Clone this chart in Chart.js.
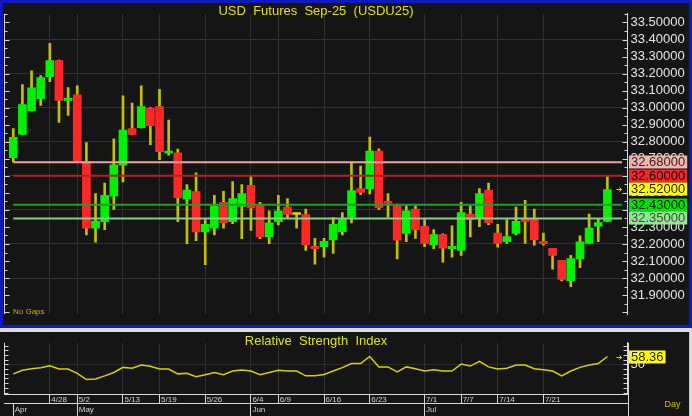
<!DOCTYPE html>
<html>
<head>
<meta charset="utf-8">
<script src="https://cdn.jsdelivr.net/npm/chart.js@4/dist/chart.umd.min.js"></script>
<style>
html, body {margin: 0; padding: 0; background: #dcdcdc;}
#top {position: absolute; left: 0; top: 0; width: 692px; height: 328px; box-sizing: border-box; border: 3px solid #1018c0; background: #151515;}
#bot {position: absolute; left: 0; top: 332px; width: 690px; height: 84px; box-sizing: border-box; border-right: 1px solid #c8c8c8; background: #151515;}
#top .box {position: absolute; left: 0; top: 0; width: 686px; height: 322px;}
#bot .box {position: absolute; left: 3px; top: 0; width: 686px; height: 84px;}
</style>
</head>
<body>
<div id="top"><div class="box"><canvas id="price"></canvas></div></div>
<div id="bot"><div class="box"><canvas id="rsi"></canvas></div></div>
<script>
//Daily bars, USD Futures Sep-25 (Thai holidays skipped)
const dates = ["4/22","4/23","4/24","4/25","4/28","4/29","4/30","5/2","5/6","5/7","5/8","5/9","5/13","5/14","5/15","5/16",
	"5/19","5/20","5/21","5/22","5/23","5/26","5/27","5/28","5/29","5/30","6/4","6/5","6/6","6/9","6/10","6/11","6/12","6/13",
	"6/16","6/17","6/18","6/19","6/20","6/23","6/24","6/25","6/26","6/27","6/30","7/1","7/2","7/3","7/4","7/7","7/8","7/9","7/11",
	"7/14","7/15","7/16","7/17","7/18","7/21","7/22","7/23","7/24","7/25","7/29","7/30","7/31"];
const open = [32.706,32.843,32.983,33.053,33.182,33.277,33.043,33.076,32.684,32.293,32.331,32.481,32.662,32.877,32.883,32.996,
	33.007,32.733,32.735,32.463,32.507,32.271,32.293,32.445,32.331,32.421,32.545,32.424,32.242,32.331,32.416,32.373,32.373,32.186,
	32.184,32.224,32.273,32.357,32.525,32.523,32.746,32.448,32.424,32.262,32.405,32.304,32.194,32.255,32.173,32.162,32.375,32.355,32.516,
	32.264,32.213,32.262,32.351,32.344,32.215,32.175,32.104,31.983,32.112,32.204,32.304,32.333];
const high = [32.877,33.136,33.217,33.188,33.377,33.280,33.118,33.129,32.795,32.496,32.558,32.817,33.069,33.027,33.129,33.000,
	33.107,32.927,32.757,32.549,32.618,32.344,32.485,32.509,32.567,32.549,32.600,32.445,32.395,32.485,32.467,32.384,32.405,32.233,
	32.233,32.355,32.384,32.682,32.658,32.828,32.758,32.496,32.435,32.432,32.424,32.344,32.284,32.260,32.306,32.445,32.424,32.525,32.558,
	32.315,32.344,32.416,32.456,32.405,32.264,32.175,32.104,32.133,32.248,32.375,32.346,32.600];
const low = [32.682,32.840,32.980,33.014,33.153,32.914,32.954,32.680,32.253,32.211,32.284,32.403,32.564,32.840,32.880,32.783,
	32.695,32.722,32.331,32.202,32.220,32.079,32.253,32.293,32.320,32.231,32.280,32.231,32.202,32.312,32.353,32.293,32.162,32.082,
	32.123,32.144,32.253,32.323,32.490,32.494,32.403,32.357,32.112,32.213,32.233,32.184,32.173,32.093,32.122,32.133,32.242,32.302,32.313,
	32.182,32.204,32.253,32.204,32.193,32.193,32.052,31.983,31.950,32.061,32.200,32.213,32.330];
const close = [32.826,33.018,33.117,33.177,33.277,33.043,33.056,32.687,32.293,32.335,32.485,32.665,32.868,32.843,33.007,32.895,
	32.742,32.746,32.472,32.516,32.271,32.315,32.423,32.323,32.467,32.496,32.412,32.242,32.324,32.395,32.373,32.373,32.194,32.173,
	32.215,32.315,32.344,32.514,32.503,32.746,32.413,32.439,32.222,32.395,32.282,32.204,32.255,32.175,32.186,32.384,32.344,32.496,32.324,
	32.204,32.244,32.333,32.333,32.224,32.202,32.133,31.992,32.114,32.213,32.293,32.326,32.520];
const rsi = [39.9,43.8,45.3,46.4,48.6,45.0,45.0,40.5,33.9,34.5,37.8,41.4,46.8,45.9,49.4,47.9,
	45.0,45.0,39.9,40.5,36.9,39.0,41.4,39.0,42.9,44.1,42.9,39.0,41.4,43.8,42.9,42.9,37.8,37.8,
	39.3,42.9,46.5,50.9,50.9,58.4,47.3,47.3,42.0,47.3,45.3,42.9,44.4,42.9,42.9,50.3,48.2,53.3,47.3,
	45.0,45.9,49.4,49.4,45.3,44.4,42.9,37.8,42.9,46.8,49.4,50.9,58.36];
const levels = [32.68, 32.60, 32.43, 32.35];
const dateTicks = ["4/28","5/2","5/13","5/19","5/26","6/4","6/9","6/16","6/23","7/1","7/7","7/14","7/21"];
const months = ["Apr","May","Jun","Jul"];
const monthStarts = ["4/22","5/2","6/4","7/1"];
const priceTicks = [31.9,32.0,32.1,32.2,32.3,32.4,32.5,32.6,32.7,32.8,32.9,33.0,33.1,33.2,33.3,33.4,33.5];
const rsiTicks = [20,25,30,35,40,45,50,55,60,65,70];

//Looks
const FONT = "'Liberation Sans', Arial, sans-serif";
Chart.defaults.font.family = FONT;
const GRID = "#303030", AXIS = "#d8d8d8", LABEL = "#e4e4e4", YEL = "#e0e000";
const AXIS_W = 61.5;
const X_MIN = -0.96, X_MAX = 67.2;
const P_MIN = 31.788, P_MAX = 33.551;
const R_MIN = 18.48, R_MAX = 72.95;
const levelStyle = [
	{line: "#e8a4a0", box: "#f4b4ae", text: "#3a2424"},
	{line: "#b02222", box: "#e82c2c", text: "#2a0000"},
	{line: "#1ea01e", box: "#00e000", text: "#002200"},
	{line: "#88cc88", box: "#92e892", text: "#3c4c3c"},
];

const idx = dates.map((d, i) => i);
const tickIdx = dateTicks.map(d => dates.indexOf(d));
const monthIdx = monthStarts.map(d => dates.indexOf(d));
const setTicks = values => scale => {scale.ticks = values.map(v => ({value: v}));};
const candle = (i, up, down, flat) => close[i] > open[i] ? up : close[i] < open[i] ? down : flat;

function edgeTicks(chart, step, major, longLen, shortLen) {
	const {ctx, chartArea: a, scales: {y}} = chart;
	ctx.save();
	ctx.strokeStyle = AXIS; ctx.lineWidth = 1;
	ctx.beginPath();
	const lx = Math.floor(a.left) + 0.5;
	ctx.moveTo(lx, a.top); ctx.lineTo(lx, a.bottom);
	for (let n = Math.ceil(y.min / step); n <= Math.floor(y.max / step); n++) {
		const py = Math.round(y.getPixelForValue(n * step)) + 0.5;
		const len = n % major === 0 ? longLen : shortLen;
		ctx.moveTo(lx, py); ctx.lineTo(lx + len, py);
		ctx.moveTo(a.right, py); ctx.lineTo(a.right - len, py);
	}
	ctx.stroke();
	ctx.restore();
}

function valueBox(chart, value, text, bg, fg) {
	const {ctx, chartArea: a, scales: {y}} = chart;
	const py = y.getPixelForValue(value);
	ctx.save();
	ctx.font = "13px " + FONT;
	const w = ctx.measureText(text).width + 4;
	ctx.fillStyle = bg;
	ctx.fillRect(a.right + 1.5, Math.round(py) - 6.5, w, 13);
	ctx.fillStyle = fg; ctx.textAlign = "left"; ctx.textBaseline = "middle";
	ctx.fillText(text, a.right + 3.5, Math.round(py) + 0.5);
	ctx.restore();
}

function arrow(chart, value) {
	const {ctx, chartArea: a, scales: {y}} = chart;
	const py = Math.round(y.getPixelForValue(value)) + 0.5, ax = a.right - 8;
	ctx.save();
	ctx.strokeStyle = YEL; ctx.lineWidth = 1;
	ctx.beginPath();
	ctx.moveTo(ax - 3, py); ctx.lineTo(ax + 2, py);
	ctx.moveTo(ax, py - 2); ctx.lineTo(ax + 2, py); ctx.lineTo(ax, py + 2);
	ctx.stroke();
	ctx.restore();
}

function caption(chart, text, y, size) {
	const {ctx, chartArea: a} = chart;
	ctx.save();
	ctx.font = size + "px " + FONT;
	ctx.fillStyle = YEL; ctx.textAlign = "center"; ctx.textBaseline = "middle";
	ctx.fillText(text, (a.left + a.right) / 2, y);
	ctx.restore();
}

new Chart(document.getElementById("price"), {
	type: "bar",
	data: {
		datasets: [
			...levels.map((lv, k) => ({
				type: "line", data: [{x: 0, y: lv}, {x: X_MAX - 0.6, y: lv}],
				borderColor: levelStyle[k].line, borderWidth: 2, pointRadius: 0, order: 0,
			})),
			{
				data: idx.map(i => ({x: i, y: [open[i], close[i]]})),
				backgroundColor: idx.map(i => candle(i, "#00f000", "#ff2828", "#d4d400")),
				borderWidth: 0, barThickness: 8, grouped: false, minBarLength: 2, order: 1,
			},
			{
				data: idx.map(i => ({x: i, y: [low[i], high[i]]})),
				backgroundColor: "#c4c000", barThickness: 2, grouped: false, order: 2,
			},
		],
	},
	options: {
		responsive: true, maintainAspectRatio: false, animation: false,
		layout: {padding: {left: 1.5, top: 0, right: 0, bottom: 0}},
		plugins: {legend: {display: false}, tooltip: {enabled: false}},
		scales: {
			x: {
				type: "linear", min: X_MIN, max: X_MAX, offset: false,
				afterBuildTicks: setTicks(tickIdx),
				ticks: {display: false},
				grid: {offset: false, color: GRID, drawTicks: false},
				border: {display: false},
			},
			y: {
				position: "right", min: P_MIN, max: P_MAX,
				afterBuildTicks: setTicks(priceTicks),
				afterFit: s => {s.width = AXIS_W;},
				ticks: {color: LABEL, font: {size: 13}, padding: 3, autoSkip: false, callback: v => v.toFixed(5)},
				grid: {drawTicks: false, color: c => Math.round(c.tick.value * 10) % 2 === 0 ? GRID : "transparent"},
				border: {color: AXIS},
			},
		},
	},
	plugins: [{
		id: "decor",
		afterDraw(chart) {
			const {ctx, chartArea: a} = chart;
			edgeTicks(chart, 0.05, 2, 5, 3);
			caption(chart, "USD  Futures  Sep-25  (USDU25)", 8, 13);
			ctx.save();
			ctx.font = "8px " + FONT; ctx.fillStyle = "#b8b800"; ctx.textBaseline = "middle";
			ctx.fillText("No Gaps", a.left + 8.5, a.bottom - 2.5);
			ctx.restore();
			const last = close[close.length - 1];
			const boxes = levels.map((lv, k) => ({v: lv, bg: levelStyle[k].box, fg: levelStyle[k].text}));
			boxes.push({v: last, bg: "#ffff00", fg: "#2a2a00"});
			boxes.forEach(b => valueBox(chart, b.v, b.v.toFixed(5), b.bg, b.fg));
			arrow(chart, last);
		},
	}],
});

new Chart(document.getElementById("rsi"), {
	type: "line",
	data: {
		datasets: [{
			data: idx.map(i => ({x: i, y: rsi[i]})),
			borderColor: "#d2d200", borderWidth: 1.5, pointRadius: 0, tension: 0,
		}],
	},
	options: {
		responsive: true, maintainAspectRatio: false, animation: false,
		layout: {padding: {left: 1.5, top: 1, right: 0, bottom: 0}},
		plugins: {legend: {display: false}, tooltip: {enabled: false}},
		scales: {
			x: {
				type: "linear", position: "bottom", weight: 0, min: X_MIN, max: X_MAX, offset: false,
				afterBuildTicks: setTicks(tickIdx),
				afterFit: s => {s.height = 9;},
				ticks: {color: "#d4d4d4", font: {size: 8}, align: "start", labelOffset: 1.5, padding: -8.5,
					autoSkip: false, maxRotation: 0, minRotation: 0, callback: v => dates[v]},
				grid: {offset: false, color: GRID, tickColor: AXIS, tickLength: 9},
				border: {color: AXIS},
			},
			xMonth: {
				type: "linear", position: "bottom", weight: 1, min: X_MIN, max: X_MAX, offset: false,
				afterBuildTicks: setTicks(monthIdx),
				afterFit: s => {s.height = 13;},
				ticks: {color: "#d4d4d4", font: {size: 8}, align: "start", labelOffset: 1.5, padding: -11.3,
					autoSkip: false, maxRotation: 0, minRotation: 0, callback: v => months[monthIdx.indexOf(v)]},
				grid: {offset: false, drawOnChartArea: false, tickColor: AXIS, tickLength: 13},
				border: {color: AXIS},
			},
			y: {
				position: "right", min: R_MIN, max: R_MAX,
				afterBuildTicks: setTicks(rsiTicks),
				afterFit: s => {s.width = AXIS_W;},
				ticks: {color: LABEL, font: {size: 13}, padding: 3, autoSkip: false, callback: v => v === 50 ? "50" : ""},
				grid: {drawTicks: false, color: c => c.tick.value === 50 ? "#2a2a2a" : "transparent"},
				border: {color: AXIS},
			},
		},
	},
	plugins: [{
		id: "decor",
		afterDraw(chart) {
			const {ctx, chartArea: a} = chart;
			edgeTicks(chart, 5, 1, 4, 4);
			caption(chart, "Relative  Strength  Index", 9, 13);
			ctx.save();
			ctx.strokeStyle = AXIS; ctx.lineWidth = 1;
			ctx.beginPath();
			ctx.moveTo(Math.round(a.right) + 0.5, a.top); ctx.lineTo(Math.round(a.right) + 0.5, chart.height);
			ctx.stroke();
			ctx.font = "9px " + FONT; ctx.fillStyle = "#c8c800"; ctx.textBaseline = "middle";
			ctx.fillText("Day", a.right + 37, chart.height - 11.5);
			ctx.restore();
			const last = rsi[rsi.length - 1];
			valueBox(chart, last, last.toFixed(2), "#ffff00", "#2a2a00");
			arrow(chart, last);
		},
	}],
});
</script>
</body>
</html>
